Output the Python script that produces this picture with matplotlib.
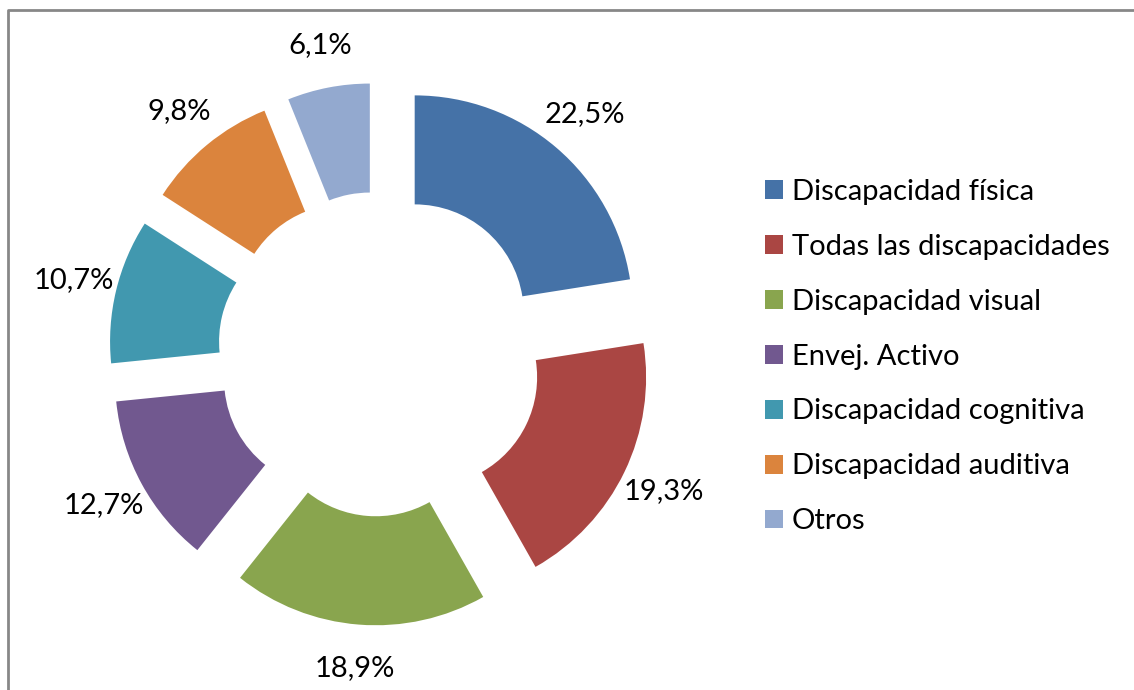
import matplotlib
matplotlib.use("Agg")
import matplotlib.pyplot as plt
from matplotlib.lines import Line2D

categorias = ["Discapacidad física", "Todas las discapacidades", "Discapacidad visual",
              "Envej. Activo", "Discapacidad cognitiva", "Discapacidad auditiva", "Otros"]
porcentajes = [22.5, 19.3, 18.9, 12.7, 10.7, 9.8, 6.1]
colores = ["#4572A7", "#AA4643", "#89A54E", "#71588F", "#4198AF", "#DB843D", "#93A9CF"]

plt.rcParams["font.family"] = ["Lato", "DejaVu Sans"]

W, H = 1134, 690
fig = plt.figure(figsize=(W / 100, H / 100), dpi=100)
ax = fig.add_axes([0, 0, 1, 1])

# centro y radio del anillo en pixeles
cx, cy, R = 380, 354, 218

wedges, texts, autotexts = ax.pie(
    porcentajes, colors=colores, startangle=90, counterclock=False,
    explode=[0.245] * len(porcentajes), radius=1,
    wedgeprops=dict(width=0.5, linewidth=0),
    autopct=lambda p: f"{p:.1f}%".replace(".", ","), pctdistance=1.2,
    textprops=dict(fontsize=21, color="black"))
ax.set_aspect("auto")
ax.set_xlim(-cx / R, (W - cx) / R)
ax.set_ylim(-(H - cy) / R, cy / R)
ax.axis("off")

ax.legend(wedges, categorias, loc="upper left", bbox_to_anchor=(765 / W, 1 - 179 / H),
          bbox_transform=fig.transFigure, frameon=False, fontsize=21,
          handlelength=0.62, handleheight=0.62, handletextpad=0.3,
          labelspacing=0.99, borderpad=0, borderaxespad=0)

# borde del grafico (solo se ven el lado izquierdo y el superior)
fig.lines.append(Line2D([7.5 / W, 7.5 / W, 1.01], [-0.01, 1 - 9.5 / H, 1 - 9.5 / H],
                        transform=fig.transFigure, color="#878787", linewidth=2))

fig.savefig("out.png", dpi=100)
